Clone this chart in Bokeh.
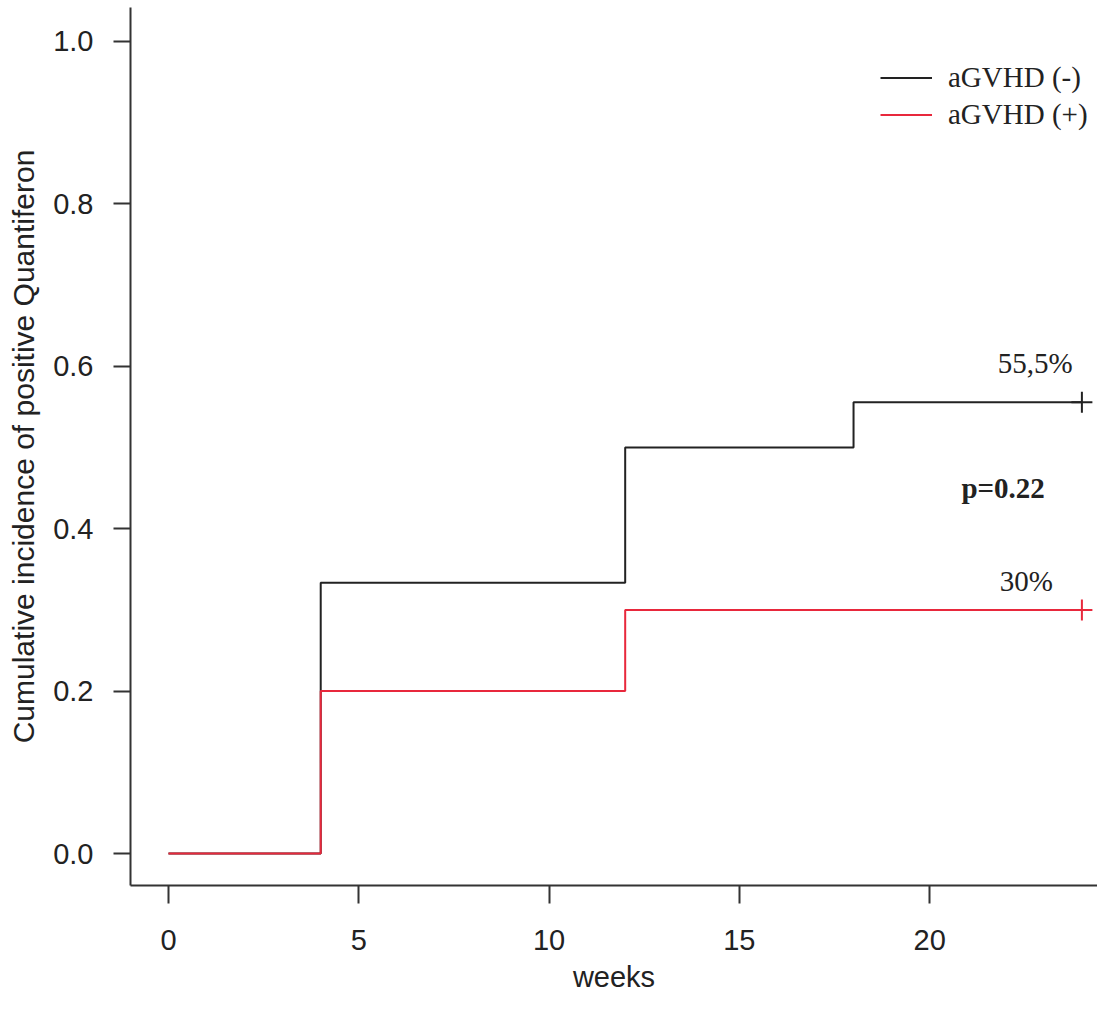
from bokeh.plotting import figure
from bokeh.models import Range1d, FixedTicker, Legend, LegendItem, Label, PrintfTickFormatter
from bokeh.embed import file_html
from bokeh.resources import INLINE

# ---- data ----
weeks_neg = [0, 4, 12, 18, 24]
inc_neg = [0.0, 0.3333, 0.5, 0.5556, 0.5556]
weeks_pos = [0, 4, 12, 24]
inc_pos = [0.0, 0.2, 0.3, 0.3]
series_names = ["aGVHD (-)", "aGVHD (+)"]
final_labels = ["55,5%", "30%"]
p_value_label = "p=0.22"
x_ticks = [0, 5, 10, 15, 20]
y_ticks = [0.0, 0.2, 0.4, 0.6, 0.8, 1.0]
x_title = "weeks"
y_title = "Cumulative incidence of positive Quantiferon"

BLACK = "#222222"
RED = "#e8283c"
SANS = "Liberation Sans"
SERIF = "Liberation Serif"

p = figure(width=1097, height=995, output_backend="svg", toolbar_location=None,
           x_range=Range1d(-0.998, 24.41), y_range=Range1d(-0.0394, 1.0418),
           min_border_left=130, min_border_right=0, min_border_top=7, min_border_bottom=109)
p.outline_line_color = None
p.xgrid.visible = False
p.ygrid.visible = False
p.background_fill_color = "white"
p.border_fill_color = "white"

for ax in (p.xaxis[0], p.yaxis[0]):
    ax.axis_line_color = "#333333"
    ax.axis_line_width = 2
    ax.major_tick_line_color = "#333333"
    ax.major_tick_line_width = 2
    ax.major_tick_in = 0
    ax.minor_tick_line_color = None
    ax.major_label_text_font = SANS
    ax.major_label_text_font_size = "29px"
    ax.major_label_text_color = "#222222"
    ax.axis_label_text_font = SANS
    ax.axis_label_text_font_style = "normal"
    ax.axis_label_text_color = "#222222"

p.xaxis.axis_label_text_font_size = "29px"
p.yaxis.axis_label_text_font_size = "30px"
p.xaxis.ticker = FixedTicker(ticks=x_ticks)
p.yaxis.ticker = FixedTicker(ticks=y_ticks)
p.yaxis.formatter = PrintfTickFormatter(format="%.1f")
p.xaxis.major_tick_out = 18
p.yaxis.major_tick_out = 17
p.xaxis.major_label_standoff = 26
p.yaxis.major_label_standoff = 20
p.xaxis.axis_label = x_title
p.yaxis.axis_label = y_title
p.xaxis.axis_label_standoff = 8
p.yaxis.axis_label_standoff = 10

r_neg = p.step(weeks_neg, inc_neg, mode="after", line_color=BLACK, line_width=2)
r_pos = p.step(weeks_pos, inc_pos, mode="after", line_color=RED, line_width=2)

# censor marks at last follow-up
p.scatter([weeks_neg[-1]], [inc_neg[-1]], marker="cross", size=21, line_color=BLACK, line_width=2)
p.scatter([weeks_pos[-1]], [inc_pos[-1]], marker="cross", size=21, line_color=RED, line_width=2)

legend = Legend(items=[LegendItem(label=series_names[0], renderers=[r_neg]),
                       LegendItem(label=series_names[1], renderers=[r_pos])],
                location=(750, 752), padding=0, margin=0, spacing=0,
                glyph_width=52, glyph_height=37, label_height=37, label_standoff=16,
                label_text_font=SERIF, label_text_font_size="29px", label_text_color="#222222",
                border_line_color=None, background_fill_alpha=0)
p.add_layout(legend)

# annotations
ann = [(final_labels[0], 22.77, 0.604, "normal"),
       (p_value_label, 21.93, 0.450, "bold"),
       (final_labels[1], 22.54, 0.335, "normal")]
for txt, ax_, ay_, style in ann:
    p.add_layout(Label(x=ax_, y=ay_, text=txt, text_align="center", text_baseline="middle",
                       text_font=SERIF, text_font_size="29px", text_font_style=style,
                       text_color="#222222"))

open("out.html", "w").write(file_html(p, INLINE))
